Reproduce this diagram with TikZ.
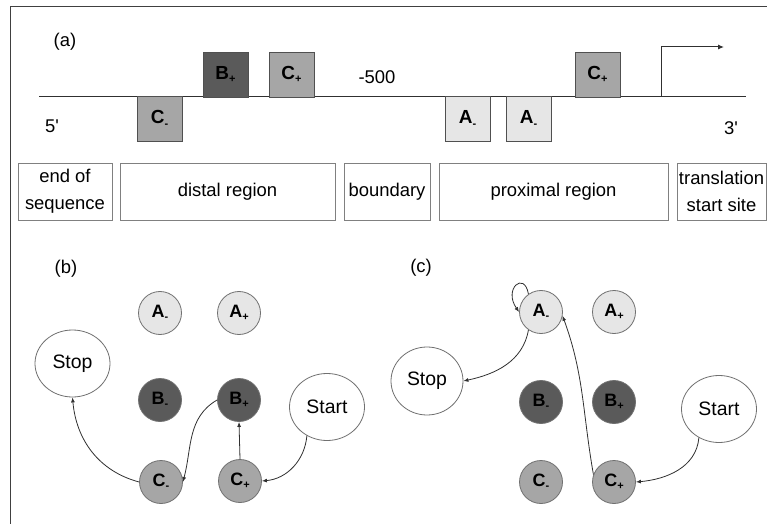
\documentclass[tikz,border=0pt]{standalone}
\usepackage{fontspec}
\setmainfont{Liberation Sans}
\newfontfamily\qfont{Liberation Sans}[Ligatures=TeXOff]
\usetikzlibrary{arrows.meta,shapes.geometric}
\definecolor{lightA}{HTML}{E6E6E6}
\definecolor{midC}{HTML}{A6A6A6}
\definecolor{darkB}{HTML}{5A5A5A}
\definecolor{boxline}{HTML}{505050}
\definecolor{regline}{HTML}{808080}
\definecolor{circline}{HTML}{707070}
\definecolor{linec}{HTML}{303030}
\definecolor{framec}{HTML}{404040}
\newcommand\regfont{\fontsize{18.5}{27}\selectfont}
\newcommand\lblfont{\fontsize{19}{22}\selectfont\bfseries}
\newcommand\circfont{\fontsize{18}{21}\selectfont\bfseries}
\newcommand\termfont{\fontsize{19.5}{23}\selectfont}
\newcommand\sub[1]{\raisebox{-0.35ex}{\fontsize{11}{12}\selectfont\bfseries #1}}
\begin{document}
\begin{tikzpicture}[x=1bp,y=1bp,
  region/.style={draw=regline, line width=0.9bp, inner sep=0pt, minimum height=57bp, align=center, font=\regfont},
  sbox/.style={draw=boxline, line width=0.8bp, minimum width=45bp, minimum height=45bp, inner sep=0pt, font=\lblfont},
  stnode/.style={circle, draw=circline, line width=0.8bp, minimum size=43bp, inner sep=0pt, font=\circfont},
  term/.style={ellipse, draw=circline, line width=0.8bp, fill=white, minimum width=75bp, minimum height=67bp, inner sep=0pt, font=\termfont},
  conn/.style={draw=linec, line width=0.8bp, -{Latex[length=5bp,width=4bp]}},
  plain/.style={font=\regfont, inner sep=0pt}
]
\useasboundingbox (0,0) rectangle (767,-524);
\fill[white] (0,0) rectangle (767,-524);
% frame
\draw[framec, line width=1bp] (10,-524) -- (10,-7) -- (767,-7);

% ---------- panel (a)
\node[plain] (la) at (65,-42) {(a)};
\coordinate (L) at (39,-97);
\coordinate (R) at (746,-97);
\draw[linec, line width=1bp] (L) -- (R);
\node[sbox, fill=midC]   (Cm1) at (159.5,-119) {C\sub{-}};
\node[sbox, fill=darkB]  (Bp)  at (225.5,-74.5) {B\sub{+}};
\node[sbox, fill=midC]   (Cp1) at (291.5,-74.5) {C\sub{+}};
\node[sbox, fill=lightA] (Am1) at (467.5,-119) {A\sub{-}};
\node[sbox, fill=lightA] (Am2) at (528.5,-119) {A\sub{-}};
\node[sbox, fill=midC]   (Cp2) at (597.5,-74.5) {C\sub{+}};
\node[plain] (m500) at (377,-77) {-500};
\node[plain] (five) at (52,-126) {\qfont 5'};
\node[plain] (three) at (731,-128) {\qfont 3'};
\coordinate (P0) at (661,-97);
\coordinate (P2) at (724,-47);
\draw[linec, line width=1bp, -{Latex[length=6bp,width=5bp]}] (P0) |- (P2);

% region boxes
\node[region, minimum width=94bp]  (endseq) at (65,-191.5) {end of\\sequence};
\node[region, minimum width=215bp] (distal) at (227.5,-191.5) {distal region};
\node[region, minimum width=86bp]  (bound)  at (387,-191.5) {boundary};
\node[region, minimum width=229bp] (prox)   at (553.5,-191.5) {proximal region};
\node[region, minimum width=89bp]  (trans)  at (721.5,-191.5) {translation\\start site};

% ---------- panel (b)
\node[plain] (lb) at (66,-269) {(b)};
\node[stnode, fill=lightA] (A1m) at (160,-313) {A\sub{-}};
\node[stnode, fill=lightA] (A1p) at (239,-313) {A\sub{+}};
\node[stnode, fill=darkB]  (B1m) at (160,-400) {B\sub{-}};
\node[stnode, fill=darkB]  (B1p) at (239,-400) {B\sub{+}};
\node[stnode, fill=midC]   (C1m) at (161,-482) {C\sub{-}};
\node[stnode, fill=midC]   (C1p) at (240,-481) {C\sub{+}};
\node[term] (Stop1)  at (72.5,-363.5) {Stop};
\node[term] (Start1) at (327,-407) {Start};
\draw[conn] (C1m.west) to[out=165,in=-85] (Stop1.south);
\draw[conn] (B1p.west) to[out=210,in=75] (C1m.east);
\draw[conn] (C1p.north) -- (B1p.south);
\draw[conn] (Start1.235) to[out=-95,in=5] (C1p.east);

% ---------- panel (c)
\node[plain] (lc) at (421,-268) {(c)};
\node[stnode, fill=lightA] (A2m) at (541,-312) {A\sub{-}};
\node[stnode, fill=lightA] (A2p) at (614,-312) {A\sub{+}};
\node[stnode, fill=darkB]  (B2m) at (541,-402) {B\sub{-}};
\node[stnode, fill=darkB]  (B2p) at (614,-402) {B\sub{+}};
\node[stnode, fill=midC]   (C2m) at (541,-482) {C\sub{-}};
\node[stnode, fill=midC]   (C2p) at (614,-482) {C\sub{+}};
\node[term, minimum width=72bp, minimum height=68bp] (Stop2) at (427,-381) {Stop};
\node[term] (Start2) at (719,-409) {Start};
\draw[conn] (A2m.125) .. controls +(100:24) and +(125:28) .. (A2m.west);
\draw[conn] (A2m.235) to[out=-100,in=12] (Stop2.east);
\draw[conn] (C2p.160) to[out=100,in=-70] (A2m.-10);
\draw[conn] (Start2.235) to[out=-95,in=5] (C2p.east);
\end{tikzpicture}
\end{document}
